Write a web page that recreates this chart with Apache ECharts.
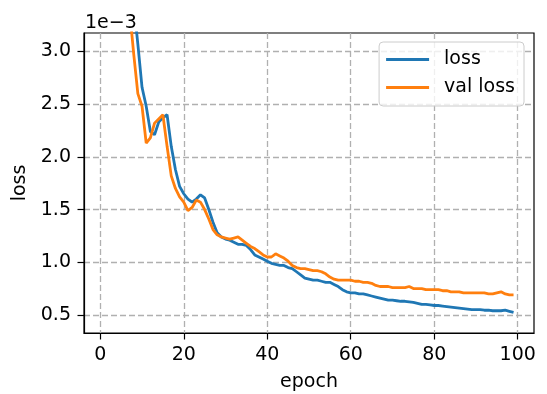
<!DOCTYPE html>
<html>
<head>
<meta charset="utf-8">
<script src="https://cdn.jsdelivr.net/npm/echarts@6/dist/echarts.min.js"></script>
<style>
    html, body { margin: 0; padding: 0; background: #fff; }
    #chart { width: 547px; height: 394px; }
</style>
</head>
<body>
<div id="chart"></div>
<script>
// values are in units of 1e-3 (shown by the "1e−3" offset label)
const epochs = Array.from({ length: 99 }, (_, i) => i + 1);

const loss = [
    20.0, 12.0, 8.0, 6.0, 5.2, 4.7, 4.2, 3.45, 3.07, 2.66,
    2.48, 2.24, 2.21, 2.33, 2.37, 2.40, 2.10, 1.88, 1.72, 1.65,
    1.60, 1.57, 1.60, 1.64, 1.61, 1.50, 1.38, 1.28, 1.24, 1.22,
    1.21, 1.19, 1.17, 1.17, 1.16, 1.12, 1.07, 1.05, 1.03, 1.01,
    0.99, 0.98, 0.97, 0.97, 0.95, 0.94, 0.91, 0.88, 0.85, 0.84,
    0.83, 0.83, 0.82, 0.81, 0.81, 0.79, 0.77, 0.74, 0.72, 0.71,
    0.71, 0.70, 0.70, 0.69, 0.68, 0.67, 0.66, 0.65, 0.64, 0.64,
    0.635, 0.63, 0.63, 0.625, 0.62, 0.61, 0.60, 0.60, 0.595, 0.59,
    0.59, 0.585, 0.58, 0.575, 0.57, 0.565, 0.56, 0.555, 0.55, 0.55,
    0.55, 0.545, 0.545, 0.54, 0.54, 0.54, 0.545, 0.535, 0.525
];

const valLoss = [
    15.0, 9.0, 6.5, 5.0, 4.2, 3.8, 3.4, 2.98, 2.60, 2.48,
    2.13, 2.18, 2.32, 2.36, 2.40, 2.10, 1.82, 1.70, 1.62, 1.57,
    1.49, 1.52, 1.59, 1.57, 1.50, 1.41, 1.31, 1.26, 1.24, 1.23,
    1.22, 1.23, 1.24, 1.21, 1.18, 1.15, 1.13, 1.10, 1.07, 1.05,
    1.05, 1.08, 1.06, 1.04, 1.01, 0.97, 0.95, 0.94, 0.94, 0.93,
    0.92, 0.92, 0.91, 0.89, 0.86, 0.84, 0.83, 0.83, 0.83, 0.83,
    0.82, 0.82, 0.81, 0.81, 0.80, 0.78, 0.77, 0.77, 0.77, 0.76,
    0.76, 0.76, 0.76, 0.77, 0.75, 0.75, 0.75, 0.74, 0.74, 0.74,
    0.74, 0.73, 0.73, 0.72, 0.72, 0.72, 0.71, 0.71, 0.71, 0.71,
    0.71, 0.71, 0.70, 0.70, 0.71, 0.72, 0.70, 0.69, 0.69
];

const xTicks = [0, 20, 40, 60, 80, 100];
const yTicks = [0.5, 1.0, 1.5, 2.0, 2.5, 3.0];

const font = 'DejaVu Sans';
const fontSize = 19;
const gridLine = { show: true, lineStyle: { color: '#b0b0b0', width: 1.3, type: [6, 3] } };
const axisLine = { show: true, onZero: false, lineStyle: { color: '#000', width: 1.2 } };
const axisTick = { show: true, length: 6.5, lineStyle: { color: '#000', width: 1.2 } };

const chart = echarts.init(document.getElementById('chart'));

chart.setOption({
    animation: false,
    textStyle: { fontFamily: font },
    grid: {
        left: 84, right: 13, top: 33, bottom: 61,
        containLabel: false, outerBoundsMode: 'none',
        show: true, borderColor: '#000', borderWidth: 1.2, backgroundColor: 'transparent'
    },
    graphic: [{
        type: 'text', left: 85, top: 14,
        style: { text: '1e\u22123', font: fontSize + 'px "DejaVu Sans"', fill: '#000' }
    }],
    legend: {
        data: ['loss', 'val loss'],
        orient: 'vertical',
        right: 23, top: 42,
        icon: 'rect',
        itemWidth: 43, itemHeight: 3,
        itemGap: 9,
        padding: [8, 9, 9, 7],
        backgroundColor: 'rgba(255,255,255,0.8)',
        borderColor: '#cccccc', borderWidth: 1, borderRadius: 4,
        textStyle: { fontFamily: font, fontSize: fontSize, color: '#000', padding: [0, 0, 0, 10] }
    },
    xAxis: {
        type: 'value',
        min: -3.9, max: 103.9,
        name: 'epoch', nameLocation: 'middle', nameGap: 40,
        nameTextStyle: { fontFamily: font, fontSize: fontSize, color: '#000' },
        axisLine: axisLine,
        axisTick: Object.assign({ customValues: xTicks }, axisTick),
        axisLabel: { fontSize: fontSize, color: '#000', margin: 13, customValues: xTicks },
        splitLine: gridLine
    },
    yAxis: {
        type: 'value',
        min: 0.329, max: 3.175,
        name: 'loss', nameLocation: 'middle', nameGap: 50, nameRotate: 90,
        nameTextStyle: { fontFamily: font, fontSize: fontSize, color: '#000' },
        axisLine: axisLine,
        axisTick: Object.assign({ customValues: yTicks }, axisTick),
        axisLabel: { fontSize: fontSize, color: '#000', margin: 13, customValues: yTicks, formatter: v => v.toFixed(1) },
        splitLine: gridLine
    },
    series: [
        {
            name: 'loss', type: 'line',
            data: epochs.map((e, i) => [e, loss[i]]),
            showSymbol: false, clip: true,
            color: '#1f77b4',
            lineStyle: { width: 2.8, color: '#1f77b4' }
        },
        {
            name: 'val loss', type: 'line',
            data: epochs.map((e, i) => [e, valLoss[i]]),
            showSymbol: false, clip: true,
            color: '#ff7f0e',
            lineStyle: { width: 2.8, color: '#ff7f0e' }
        }
    ]
});
</script>
</body>
</html>
